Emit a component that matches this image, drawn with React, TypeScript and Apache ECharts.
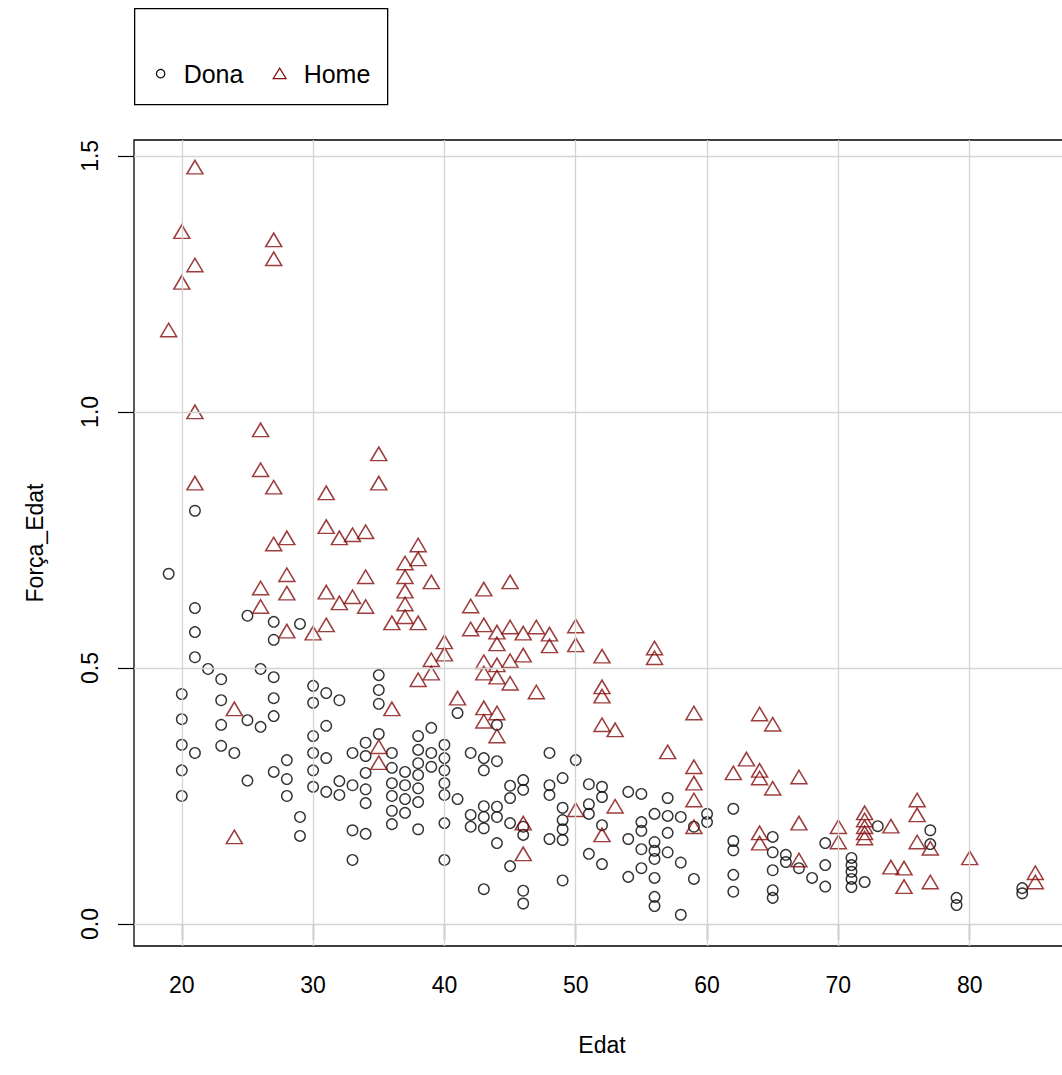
import React, { useEffect, useRef } from "react";
import * as echarts from "echarts";

const FONT = "'Liberation Sans', Arial, 'DejaVu Sans', sans-serif";

const xTicks = [20, 30, 40, 50, 60, 70, 80];
const yTicks = [0, 0.5, 1.0, 1.5];
const xRange = [16.36, 87.64];
const yRange = [-0.043, 1.531];
const seriesNames = ["Dona", "Home"];

// Dona: [Edat, Força_Edat]
const donaPoints: [number, number][] = [
  [19, 0.684],
  [20, 0.449], [20, 0.4], [20, 0.35], [20, 0.3], [20, 0.25],
  [21, 0.807], [21, 0.617], [21, 0.57], [21, 0.521], [21, 0.334],
  [22, 0.498],
  [23, 0.478], [23, 0.437], [23, 0.389], [23, 0.348],
  [24, 0.334],
  [25, 0.602], [25, 0.398], [25, 0.28],
  [26, 0.498], [26, 0.385],
  [27, 0.59], [27, 0.555], [27, 0.482], [27, 0.441], [27, 0.406], [27, 0.297],
  [28, 0.32], [28, 0.283], [28, 0.25],
  [29, 0.586], [29, 0.209], [29, 0.172],
  [30, 0.465], [30, 0.432], [30, 0.367], [30, 0.334], [30, 0.3], [30, 0.268],
  [31, 0.451], [31, 0.387], [31, 0.324], [31, 0.258],
  [32, 0.437], [32, 0.279], [32, 0.252],
  [33, 0.334], [33, 0.271], [33, 0.183], [33, 0.125],
  [34, 0.354], [34, 0.328], [34, 0.295], [34, 0.263], [34, 0.236], [34, 0.176],
  [35, 0.486], [35, 0.457], [35, 0.43], [35, 0.371],
  [36, 0.334], [36, 0.305], [36, 0.275], [36, 0.25], [36, 0.221], [36, 0.195],
  [37, 0.297], [37, 0.271], [37, 0.244], [37, 0.217],
  [38, 0.367], [38, 0.34], [38, 0.314], [38, 0.291], [38, 0.265], [38, 0.238], [38, 0.185],
  [39, 0.383], [39, 0.334], [39, 0.307],
  [40, 0.35], [40, 0.324], [40, 0.3], [40, 0.275], [40, 0.252], [40, 0.197], [40, 0.125],
  [41, 0.412], [41, 0.244],
  [42, 0.334], [42, 0.213], [42, 0.19],
  [43, 0.324], [43, 0.3], [43, 0.23], [43, 0.209], [43, 0.187], [43, 0.068],
  [44, 0.389], [44, 0.318], [44, 0.229], [44, 0.209], [44, 0.158],
  [45, 0.27], [45, 0.246], [45, 0.197], [45, 0.113],
  [46, 0.281], [46, 0.262], [46, 0.19], [46, 0.174], [46, 0.065], [46, 0.04],
  [48, 0.334], [48, 0.271], [48, 0.252], [48, 0.166],
  [49, 0.285], [49, 0.227], [49, 0.203], [49, 0.185], [49, 0.164], [49, 0.085],
  [50, 0.32],
  [51, 0.273], [51, 0.234], [51, 0.215], [51, 0.137],
  [52, 0.268], [52, 0.248], [52, 0.193], [52, 0.117],
  [54, 0.258], [54, 0.166], [54, 0.092],
  [55, 0.254], [55, 0.199], [55, 0.182], [55, 0.146], [55, 0.109],
  [56, 0.215], [56, 0.16], [56, 0.143], [56, 0.127], [56, 0.09], [56, 0.053], [56, 0.035],
  [57, 0.246], [57, 0.211], [57, 0.178], [57, 0.14],
  [58, 0.209], [58, 0.12], [58, 0.018],
  [59, 0.19], [59, 0.088],
  [60, 0.215], [60, 0.199],
  [62, 0.225], [62, 0.162], [62, 0.144], [62, 0.096], [62, 0.063],
  [65, 0.17], [65, 0.14], [65, 0.105], [65, 0.066], [65, 0.051],
  [66, 0.135], [66, 0.121],
  [67, 0.109],
  [68, 0.09],
  [69, 0.158], [69, 0.115], [69, 0.073],
  [71, 0.129], [71, 0.115], [71, 0.102], [71, 0.088], [71, 0.072],
  [72, 0.082],
  [73, 0.191],
  [77, 0.183], [77, 0.156],
  [79, 0.051], [79, 0.037],
  [84, 0.07], [84, 0.06],
];

// Home: [Edat, Força_Edat]
const homePoints: [number, number][] = [
  [19, 1.16],
  [20, 1.352], [20, 1.253],
  [21, 1.478], [21, 1.287], [21, 1.0], [21, 0.861],
  [24, 0.42], [24, 0.17],
  [26, 0.965], [26, 0.887], [26, 0.656], [26, 0.62],
  [27, 1.336], [27, 1.299], [27, 0.853], [27, 0.742],
  [28, 0.754], [28, 0.682], [28, 0.646], [28, 0.572],
  [30, 0.568],
  [31, 0.842], [31, 0.776], [31, 0.648], [31, 0.584],
  [32, 0.754], [32, 0.627],
  [33, 0.76], [33, 0.639],
  [34, 0.766], [34, 0.678], [34, 0.62],
  [35, 0.918], [35, 0.861], [35, 0.346], [35, 0.315],
  [36, 0.588], [36, 0.42],
  [37, 0.705], [37, 0.678], [37, 0.65], [37, 0.625], [37, 0.6],
  [38, 0.74], [38, 0.713], [38, 0.588], [38, 0.477],
  [39, 0.668], [39, 0.516], [39, 0.49],
  [40, 0.551], [40, 0.527],
  [41, 0.441],
  [42, 0.621], [42, 0.576],
  [43, 0.654], [43, 0.584], [43, 0.512], [43, 0.49], [43, 0.422], [43, 0.396],
  [44, 0.57], [44, 0.547], [44, 0.506], [44, 0.482], [44, 0.412], [44, 0.367],
  [45, 0.668], [45, 0.58], [45, 0.514], [45, 0.47],
  [46, 0.568], [46, 0.525], [46, 0.197], [46, 0.137],
  [47, 0.58], [47, 0.453],
  [48, 0.566], [48, 0.543],
  [50, 0.582], [50, 0.545], [50, 0.223],
  [52, 0.523], [52, 0.463], [52, 0.445], [52, 0.389], [52, 0.174],
  [53, 0.379], [53, 0.23],
  [56, 0.539], [56, 0.52],
  [57, 0.336],
  [59, 0.412], [59, 0.307], [59, 0.275], [59, 0.242], [59, 0.19],
  [62, 0.295],
  [63, 0.322],
  [64, 0.41], [64, 0.3], [64, 0.285], [64, 0.178], [64, 0.158],
  [65, 0.39], [65, 0.265],
  [67, 0.287], [67, 0.197], [67, 0.125],
  [70, 0.19], [70, 0.16],
  [72, 0.217], [72, 0.203], [72, 0.19], [72, 0.178], [72, 0.168],
  [74, 0.191], [74, 0.111],
  [75, 0.109], [75, 0.073],
  [76, 0.242], [76, 0.213], [76, 0.16],
  [77, 0.148], [77, 0.082],
  [80, 0.129],
  [85, 0.1], [85, 0.082],
];

const DONA_COLOR = "#000000";
const HOME_COLOR = "#850c0c";

export default function App() {
  const ref = useRef<HTMLDivElement>(null);

  useEffect(() => {
    document.body.style.margin = "0";
    const chart = echarts.init(ref.current!, null, { renderer: "svg" });
    chart.setOption({
      animation: false,
      backgroundColor: "#ffffff",
      textStyle: { fontFamily: FONT },
      grid: {
        left: 134,
        top: 140,
        width: 936,
        height: 806,
        show: true,
        borderColor: "#000",
        borderWidth: 1.3,
        backgroundColor: "transparent",
      },
      graphic: [
        {
          type: "group",
          left: 134,
          top: 8,
          silent: true,
          children: [
            {
              type: "rect",
              shape: { x: 0, y: 0, width: 253, height: 96 },
              style: { fill: "transparent", stroke: "#000", lineWidth: 1.3 },
            },
            {
              type: "circle",
              shape: { cx: 26, cy: 65, r: 4.2 },
              style: { fill: "transparent", stroke: DONA_COLOR, lineWidth: 1.2 },
            },
            {
              type: "text",
              x: 49,
              y: 65,
              style: {
                text: seriesNames[0],
                fontSize: 25,
                fontFamily: FONT,
                fill: "#000",
                verticalAlign: "middle",
                align: "left",
              },
            },
            {
              type: "polygon",
              shape: { points: [[145, 59.5], [151.5, 70], [138.5, 70]] },
              style: { fill: "transparent", stroke: HOME_COLOR, lineWidth: 1.2 },
            },
            {
              type: "text",
              x: 169,
              y: 65,
              style: {
                text: seriesNames[1],
                fontSize: 25,
                fontFamily: FONT,
                fill: "#000",
                verticalAlign: "middle",
                align: "left",
              },
            },
          ],
        },
      ],
      xAxis: {
        type: "value",
        min: xRange[0],
        max: xRange[1],
        name: "Edat",
        nameLocation: "middle",
        nameGap: 87,
        nameTextStyle: { fontSize: 23, color: "#000", fontFamily: FONT },
        axisLine: { show: false },
        axisTick: {
          show: true,
          inside: false,
          length: 16,
          customValues: xTicks,
          lineStyle: { color: "#000", width: 1.2 },
        },
        axisLabel: {
          customValues: xTicks,
          fontSize: 23,
          color: "#000",
          margin: 27,
          fontFamily: FONT,
        },
        splitLine: { show: false },
      },
      yAxis: {
        type: "value",
        min: yRange[0],
        max: yRange[1],
        name: "Força_Edat",
        nameLocation: "middle",
        nameRotate: 90,
        nameGap: 88,
        nameTextStyle: { fontSize: 23, color: "#000", fontFamily: FONT },
        axisLine: { show: false },
        axisTick: {
          show: true,
          inside: false,
          length: 16,
          customValues: yTicks,
          lineStyle: { color: "#000", width: 1.2 },
        },
        axisLabel: {
          customValues: yTicks,
          rotate: 90,
          fontSize: 23,
          color: "#000",
          margin: 33,
          fontFamily: FONT,
          formatter: (v: number) => v.toFixed(1),
        },
        splitLine: { show: false },
      },
      series: [
        {
          type: "scatter",
          name: "grid",
          data: [],
          z: 1,
          silent: true,
          markLine: {
            silent: true,
            symbol: ["none", "none"],
            label: { show: false },
            animation: false,
            lineStyle: { color: "#d3d3d3", width: 1.3, type: "solid" },
            emphasis: { disabled: true },
            data: [
              ...xTicks.map((v) => ({ xAxis: v })),
              ...yTicks.map((v) => ({ yAxis: v })),
            ],
          },
        },
        {
          type: "scatter",
          name: seriesNames[0],
          z: 3,
          symbol: "circle",
          symbolSize: 10.5,
          itemStyle: { color: "transparent", borderColor: DONA_COLOR, borderWidth: 1.4 },
          emphasis: { disabled: true },
          data: donaPoints,
        },
        {
          type: "scatter",
          name: seriesNames[1],
          z: 3,
          symbol: "triangle",
          symbolSize: [16, 13.5],
          itemStyle: { color: "transparent", borderColor: HOME_COLOR, borderWidth: 1.5 },
          emphasis: { disabled: true },
          data: homePoints,
        },
      ],
    });
    return () => chart.dispose();
  }, []);

  return (
    <div
      style={{
        position: "absolute",
        left: 0,
        top: 0,
        width: 1062,
        height: 1075,
        overflow: "hidden",
        background: "#fff",
      }}
    >
      <div ref={ref} style={{ width: 1085, height: 1075 }} />
    </div>
  );
}
